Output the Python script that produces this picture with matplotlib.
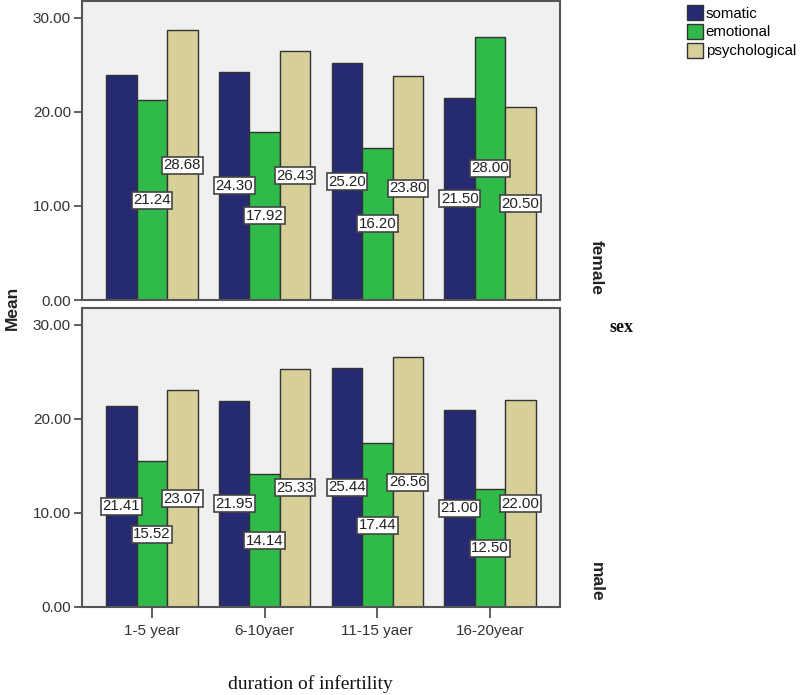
import matplotlib
matplotlib.use("Agg")
import matplotlib.pyplot as plt
import numpy as np

categories = ["1-5 year", "6-10yaer", "11-15 yaer", "16-20year"]
series = ["somatic", "emotional", "psychological"]
female_somatic = [23.90, 24.30, 25.20, 21.50]
female_emotional = [21.24, 17.92, 16.20, 28.00]
female_psychological = [28.68, 26.43, 23.80, 20.50]
male_somatic = [21.41, 21.95, 25.44, 21.00]
male_emotional = [15.52, 14.14, 17.44, 12.50]
male_psychological = [23.07, 25.33, 26.56, 22.00]
# labels shown (female 1-5 year somatic has no label in the original)
female_show = [[False, True, True, True], [True] * 4, [True] * 4]
male_show = [[True] * 4, [True] * 4, [True] * 4]
yticks = [0, 10, 20, 30]
panels = ["female", "male"]

colors = ["#262a72", "#2fba4a", "#d6cf98"]
edge = "#333333"

fig = plt.figure(figsize=(8, 6.95), dpi=100)
W, H = 800, 695
left, right = 82, 560
panel_px = [(1, 300), (308, 607)]
data = [[female_somatic, female_emotional, female_psychological],
        [male_somatic, male_emotional, male_psychological]]
shows = [female_show, male_show]

x = np.arange(len(categories))
bw = 0.27
axes = []
for pi, (top, bot) in enumerate(panel_px):
    ax = fig.add_axes([left / W, (H - bot) / H, (right - left) / W, (bot - top) / H])
    axes.append(ax)
    ax.set_facecolor("#f0f0f0")
    for si, vals in enumerate(data[pi]):
        xs = x + (si - 1) * bw
        ax.bar(xs, vals, width=bw, color=colors[si], edgecolor=edge, linewidth=1.0,
               label=series[si], zorder=2)
        for xi, v, sh in zip(xs, vals, shows[pi][si]):
            if sh:
                ax.text(xi, v / 2, f"{v:.2f}", ha="center", va="center", fontsize=10.8,
                        family="Liberation Sans", color="#222222", zorder=4,
                        bbox=dict(boxstyle="square,pad=0.1", fc="white", ec="#444444", lw=1.2))
    ax.set_xlim(-0.62, 3.62)
    ax.set_ylim(0, 31.8)
    ax.set_yticks(yticks)
    ax.set_yticklabels([f"{t:.2f}" for t in yticks], fontsize=11, family="Liberation Sans",
                       color="#333333")
    ax.tick_params(axis="y", direction="out", length=6, width=1.2, color="#444444", pad=2)
    for s in ax.spines.values():
        s.set_color("#555555")
        s.set_linewidth(1.5)
    if pi == 0:
        ax.set_xticks([])
    else:
        ax.set_xticks(x)
        ax.set_xticklabels(categories, fontsize=11, family="Liberation Sans", color="#333333")
        ax.tick_params(axis="x", direction="out", length=8, width=1.2, color="#444444", pad=4)
    fig.text(596 / W, (H - (bot - 5)) / H, panels[pi], rotation=270, ha="center", va="bottom",
             fontsize=12.5, fontweight="bold", family="Liberation Sans", color="#222222")

fig.text(12 / W, (H - 308) / H, "Mean", rotation=90, ha="center", va="center",
         fontsize=12.5, fontweight="bold", family="Liberation Sans", color="#222222")
fig.text(621 / W, (H - 328) / H, "sex", ha="center", va="center",
         fontsize=13, fontweight="bold", family="Liberation Serif", color="#111111")
fig.text(310 / W, (H - 684) / H, "duration of infertility", ha="center", va="center",
         fontsize=14, family="Liberation Serif", color="#111111")

handles, labels = axes[0].get_legend_handles_labels()
leg = fig.legend(handles, labels, loc="upper left", bbox_to_anchor=(684 / W, 1 - 2 / H),
                 frameon=False, prop={"family": "Liberation Sans", "size": 10.8},
                 handlelength=1.05, handleheight=1.2, handletextpad=0.2, labelspacing=0.2,
                 borderaxespad=0, borderpad=0.2)

fig.savefig("out.png", dpi=100)
